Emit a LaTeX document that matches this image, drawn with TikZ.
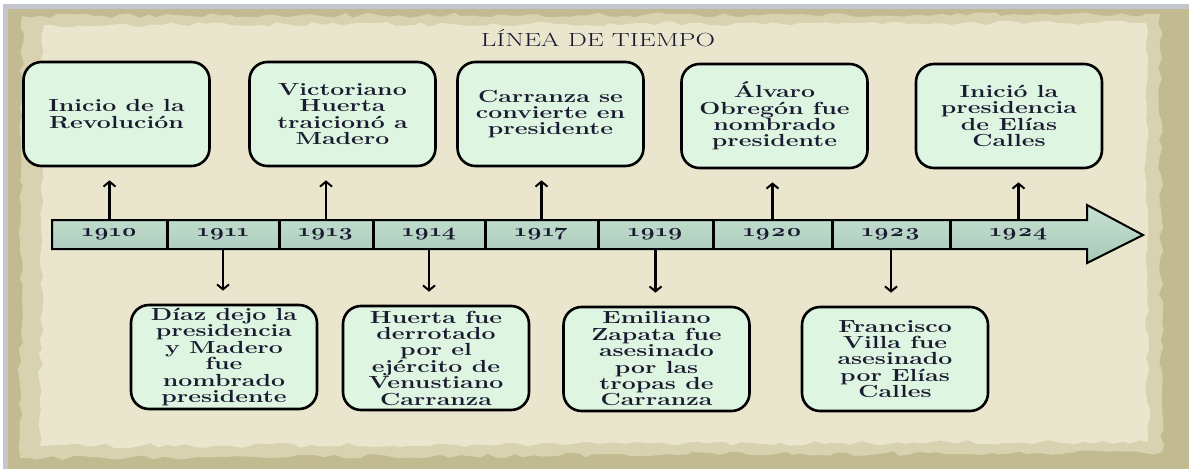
\documentclass[tikz,border=0pt]{standalone}
\usepackage{fontspec}
\setmainfont{Latin Modern Roman}[FakeStretch=1.42,Numbers=OldStyle]
\usetikzlibrary{arrows.meta,positioning,decorations.pathmorphing}
\definecolor{paper}{HTML}{EAE6CE}
\definecolor{midpaper}{HTML}{D8D2B0}
\definecolor{olive}{HTML}{C2BB91}
\definecolor{frame}{HTML}{C4C6CE}
\definecolor{mint}{HTML}{DDF5E1}
\definecolor{bartop}{HTML}{C6E2D3}
\definecolor{barbot}{HTML}{A9C8B8}
\definecolor{ink}{HTML}{1A1A30}

\begin{document}
\begin{tikzpicture}[x=1pt,y=-1pt,>={Straight Barb[length=5pt,width=12pt,line width=2pt]},
    event/.style={draw,line width=2.6pt,rounded corners=18pt,fill=mint,minimum width=186pt,
        minimum height=104pt,inner sep=1pt,align=center,text=ink,font=\fontsize{17.5}{16.4}\selectfont\bfseries},
    year/.style={minimum height=29pt,inner sep=0pt,outer sep=0pt,text=ink,font=\fontsize{17.5}{18}\selectfont\bfseries},
    link/.style={->,line width=2.8pt,shorten >=13pt},
    rough/.style={decorate,decoration={random steps,segment length=9pt,amplitude=2.5pt}}]
    \pgfmathsetseed{42}
    \useasboundingbox (0,0) rectangle (1189,469);
    \fill[white] (0,0) rectangle (1189,469);
    \fill[frame] (3,4) rectangle (1189,469);
    \fill[olive] (8,9) rectangle (1189,469);
    \fill[midpaper,rough] (22,16) -- (1160,14) -- (1162,452) -- (20,458) -- cycle;
    \fill[paper,rough] (44,25) -- (1146,23) -- (1148,442) -- (40,446) -- cycle;

    \node[text=ink,font=\fontsize{19}{18}\selectfont] (title) at (598,38) {LÍNEA DE TIEMPO};

    \draw[line width=2pt,top color=bartop,bottom color=barbot]
        (52,220) -- (1087,220) -- (1087,205) -- (1143,235) -- (1087,263) -- (1087,249) -- (52,249) -- cycle;
    \node[year,minimum width=115pt] (s1910) at (109.5,234.5) {1910};
    \node[year,minimum width=112pt,right=0pt of s1910] (s1911) {1911};
    \node[year,minimum width=94pt,right=0pt of s1911] (s1913) {1913};
    \node[year,minimum width=112pt,right=0pt of s1913] (s1914) {1914};
    \node[year,minimum width=113pt,right=0pt of s1914] (s1917) {1917};
    \node[year,minimum width=115pt,right=0pt of s1917] (s1919) {1919};
    \node[year,minimum width=119pt,right=0pt of s1919] (s1920) {1920};
    \node[year,minimum width=118pt,right=0pt of s1920] (s1923) {1923};
    \node[year,minimum width=137pt,right=0pt of s1923] (s1924) {\raisebox{3pt}{1924}\hspace{30pt}};
    \foreach \s in {s1910,s1911,s1913,s1914,s1917,s1919,s1920,s1923}
        \draw[line width=3pt] (\s.north east) -- (\s.south east);

    \node[event] (e1910) at (116.5,114) {Inicio de la\\Revolución};
    \node[event] (e1913) at (342.5,114) {Victoriano\\Huerta\\traicionó a\\Madero};
    \node[event] (e1917) at (550.5,114) {Carranza se\\convierte en\\presidente};
    \node[event] (e1920) at (774.5,116) {Álvaro\\Obregón fue\\nombrado\\presidente};
    \node[event] (e1924) at (1009,116) {Inició la\\presidencia\\de Elías\\Calles};
    \node[event] (e1911) at (224,357) {Díaz dejo la\\presidencia\\y Madero\\fue\\nombrado\\presidente};
    \node[event] (e1914) at (436,358) {Huerta fue\\derrotado\\por el\\ejército de\\Venustiano\\Carranza};
    \node[event] (e1919) at (656.5,359) {Emiliano\\Zapata fue\\asesinado\\por las\\tropas de\\Carranza};
    \node[event] (e1923) at (895,359) {Francisco\\Villa fue\\asesinado\\por Elías\\Calles};

    \foreach \y in {1910,1913,1917,1920,1924}
        \draw[link] (s\y.north) -- (s\y.north |- e\y.south);
    \foreach \y in {1911,1914,1919,1923}
        \draw[link] (s\y.south) -- (s\y.south |- e\y.north);
\end{tikzpicture}
\end{document}
